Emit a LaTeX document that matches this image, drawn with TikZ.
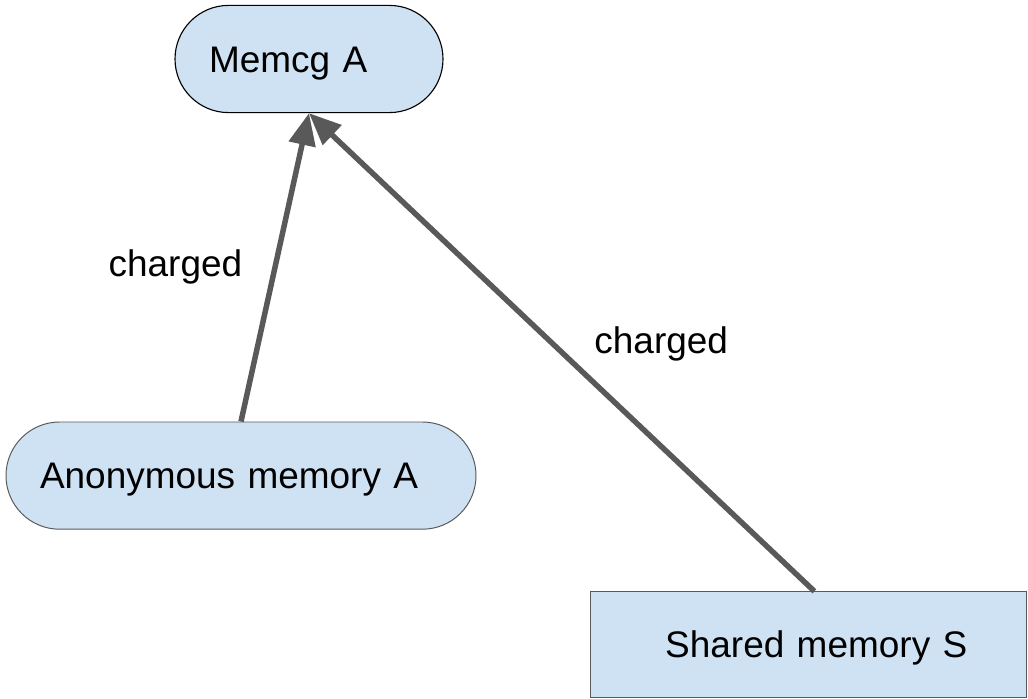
\documentclass[tikz,border=0pt]{standalone}
\usepackage{fontspec}
\setmainfont{Liberation Sans}
\usepackage{tikz}
\usetikzlibrary{positioning, arrows.meta}
\definecolor{memFill}{HTML}{CFE2F3}
\definecolor{edgeGray}{HTML}{595959}

\begin{document}
\begin{tikzpicture}[
  every node/.style={font=\fontsize{26.3}{31}\selectfont, text=black},
  pill/.style={
    rectangle, rounded corners=1.34cm,
    minimum height=2.68cm, inner xsep=0.85cm,
    text height=0.66cm, text depth=0pt,
    draw=edgeGray, line width=0.7pt,
    fill=memFill, align=left
  },
  block/.style={
    rectangle, minimum height=2.63cm,
    text height=0.66cm, text depth=0pt,
    draw=edgeGray, line width=0.7pt,
    fill=memFill, align=left
  },
  charge/.style={
    draw=edgeGray, line width=3.9pt,
    -{Triangle[length=0.8cm, width=0.66cm]}
  },
  chargelbl/.style={inner sep=0pt},
]
\useasboundingbox (0,0) rectangle (25.7,-17.475);

% Memory cgroup
\node[pill, draw=black, line width=0.8pt, text width=5.0cm] (memcg) at (7.725,-1.475) {Memcg A};

% Memory owned by the group
\node[pill, text width=10.05cm] (anon) at (6.025,-11.89) {Anonymous memory A};
\node[block, inner xsep=0pt, text width=10.92cm] (shared) at (20.21,-16.11)
  {\hspace*{1.88cm}Shared memory S};

% Charging
\draw[charge] ([xshift=0.15cm]shared.north) -- (memcg.south)
  node[chargelbl, midway, right=0.75cm, yshift=0.2cm] (lblS) {charged};
\draw[charge] (anon.north) -- (memcg.south)
  node[chargelbl, midway, left=0.75cm] (lblA) {charged};

\end{tikzpicture}
\end{document}
